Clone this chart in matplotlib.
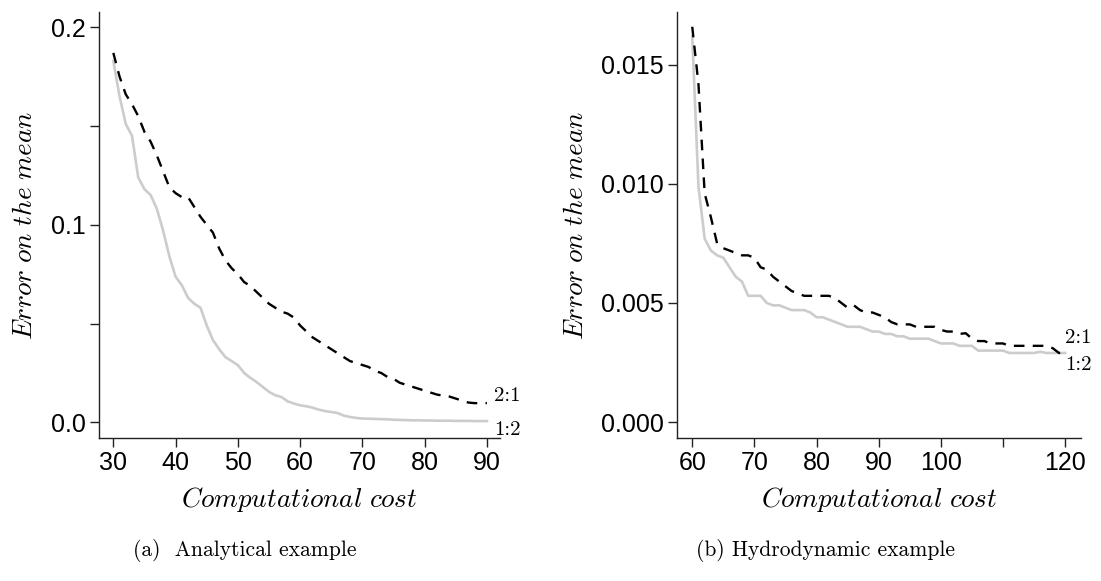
import matplotlib
matplotlib.use("Agg")
import matplotlib.pyplot as plt

plt.rcParams['font.family'] = ['Liberation Sans', 'DejaVu Sans']
plt.rcParams['mathtext.fontset'] = 'cm'

# (a) analytical example
cost_a = list(range(30, 91))
err_a_21 = [0.187, 0.175, 0.166, 0.161, 0.155, 0.147, 0.142, 0.135, 0.127, 0.119,
            0.116, 0.114, 0.114, 0.109, 0.104, 0.100, 0.096, 0.088, 0.082, 0.078,
            0.075, 0.071, 0.069, 0.066, 0.063, 0.060, 0.058, 0.056, 0.055, 0.053,
            0.049, 0.046, 0.043, 0.041, 0.039, 0.037, 0.035, 0.033, 0.031, 0.030,
            0.029, 0.028, 0.026, 0.025, 0.023, 0.022, 0.020, 0.019, 0.018, 0.017,
            0.016, 0.015, 0.014, 0.0135, 0.013, 0.012, 0.011, 0.010, 0.0097, 0.0097,
            0.0097]
err_a_12 = [0.183, 0.165, 0.151, 0.145, 0.124, 0.118, 0.115, 0.108, 0.097, 0.084,
            0.0737, 0.0694, 0.063, 0.060, 0.058, 0.049, 0.0416, 0.037, 0.033, 0.031,
            0.0289, 0.025, 0.0225, 0.0204, 0.0179, 0.0154, 0.0137, 0.0128, 0.0106, 0.0095,
            0.0086, 0.0081, 0.0074, 0.0064, 0.0057, 0.0052, 0.0047, 0.0034, 0.0027, 0.0022,
            0.0019, 0.0018, 0.0017, 0.0016, 0.0015, 0.0013, 0.0012, 0.0011, 0.0010, 0.0010,
            0.0009, 0.0009, 0.0008, 0.0008, 0.0008, 0.0007, 0.0007, 0.0007, 0.0006, 0.0006,
            0.0006]

# (b) hydrodynamic example
cost_b = list(range(60, 121))
err_b_21 = [0.0166, 0.0142, 0.0096, 0.0086, 0.0075, 0.0073, 0.0072, 0.0071, 0.0070, 0.0070,
            0.0069, 0.0065, 0.0064, 0.0061, 0.0059, 0.0057, 0.0055, 0.0054, 0.0053, 0.0053,
            0.0053, 0.0053, 0.0053, 0.0052, 0.0050, 0.0048, 0.0049, 0.0047, 0.0046, 0.0046,
            0.0045, 0.0044, 0.0042, 0.0041, 0.0041, 0.0041, 0.0040, 0.0040, 0.0040, 0.0040,
            0.00387, 0.0038, 0.0038, 0.0037, 0.00373, 0.0035, 0.0034, 0.0034, 0.0033, 0.0033,
            0.0033, 0.0032, 0.0032, 0.0032, 0.0032, 0.0032, 0.0032, 0.0032, 0.0031, 0.0029,
            0.0029]
err_b_12 = [0.0162, 0.0099, 0.0077, 0.0072, 0.0070, 0.0069, 0.0065, 0.0061, 0.0059, 0.0053,
            0.0053, 0.0053, 0.0050, 0.0049, 0.0049, 0.0048, 0.0047, 0.0047, 0.0047, 0.0046,
            0.0044, 0.0044, 0.0043, 0.0042, 0.0041, 0.0040, 0.0040, 0.0040, 0.0039, 0.0038,
            0.0038, 0.0037, 0.0037, 0.0036, 0.0036, 0.0035, 0.0035, 0.0035, 0.0035, 0.0034,
            0.0033, 0.0033, 0.0033, 0.0032, 0.0032, 0.0032, 0.0030, 0.0030, 0.0030, 0.0030,
            0.0030, 0.0029, 0.0029, 0.0029, 0.0029, 0.0029, 0.00295, 0.0029, 0.0029, 0.0029,
            0.0029]

W, H = 1101, 581


def px(x, y):
    # pixel position (from top left) to figure fraction
    return x / W, 1 - y / H


def style_axes(ax):
    for s in ('top', 'right'):
        ax.spines[s].set_visible(False)
    for s in ('left', 'bottom'):
        ax.spines[s].set_linewidth(1.0)
        ax.spines[s].set_color('#222222')
    ax.tick_params(direction='out', length=6.5, width=1.0, color='#222222',
                   labelsize=18, pad=3)


fig = plt.figure(figsize=(W / 100, H / 100), dpi=100)

# left panel
ax1 = fig.add_axes([99 / W, 1 - 437.5 / H, 401 / W, 425.5 / H])
ax1.plot(cost_a, err_a_12, color='#cccccc', lw=1.9, solid_joinstyle='round')
ax1.plot(cost_a, err_a_21, color='black', lw=1.7, ls=(0, (4.5, 3.5)))
ax1.set_xlim(27.7, 92.1)
ax1.set_ylim(-0.0077, 0.2077)
ax1.set_xticks([30, 40, 50, 60, 70, 80, 90])
ax1.set_yticks([0.0, 0.05, 0.1, 0.15, 0.2])
ax1.set_yticklabels(['0.0', '', '0.1', '', '0.2'])
style_axes(ax1)
ax1.text(91.1, 0.0132, '2:1', fontname='cmr10', fontsize=15, va='center', ha='left')
ax1.text(91.1, -0.004, '1:2', fontname='cmr10', fontsize=15, va='center', ha='left')

# right panel
ax2 = fig.add_axes([676.7 / W, 1 - 437.5 / H, 404 / W, 425.5 / H])
ax2.plot(cost_b, err_b_12, color='#cccccc', lw=1.9, solid_joinstyle='round')
ax2.plot(cost_b, err_b_21, color='black', lw=1.7, ls=(0, (4.5, 3.5)))
ax2.set_xlim(57.5, 122.5)
ax2.set_ylim(-0.00065, 0.01722)
ax2.set_xticks([60, 70, 80, 90, 100, 110, 120])
ax2.set_xticklabels(['60', '70', '80', '90', '100', '', '120'])
ax2.set_yticks([0.0, 0.005, 0.010, 0.015])
ax2.set_yticklabels(['0.000', '0.005', '0.010', '0.015'])
style_axes(ax2)
ax2.text(120.0, 0.00353, '2:1', fontname='cmr10', fontsize=15, va='center', ha='left')
ax2.text(120.0, 0.00239, '1:2', fontname='cmr10', fontsize=15, va='center', ha='left')

# axis labels
ylab = '$Error\\ on\\ the\\ mean$'
xlab = '$Computational\\ cost$'
fig.text(*px(25, 225), ylab, rotation=90, fontsize=19.5, ha='center', va='center')
fig.text(*px(576, 225), ylab, rotation=90, fontsize=19.5, ha='center', va='center')
fig.text(*px(299, 500), xlab, fontsize=19.5, ha='center', va='center')
fig.text(*px(879, 500), xlab, fontsize=19.5, ha='center', va='center')

# sub-captions
fig.text(*px(245, 550), '(a)  Analytical example', fontname='cmr10', fontsize=15.5,
         ha='center', va='center')
fig.text(*px(826, 550), '(b) Hydrodynamic example', fontname='cmr10', fontsize=15.5,
         ha='center', va='center')

fig.savefig('out.png', dpi=100)
